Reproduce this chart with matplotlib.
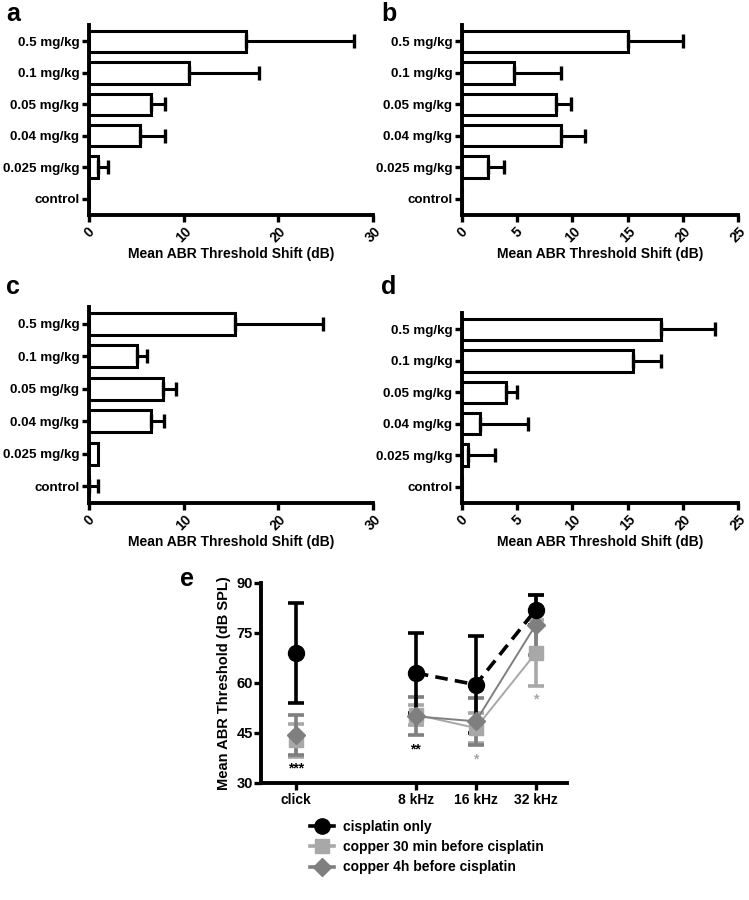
import matplotlib
matplotlib.use("Agg")
import matplotlib.pyplot as plt
from matplotlib.lines import Line2D
import numpy as np

plt.rcParams['font.family'] = ['Liberation Sans', 'DejaVu Sans']
plt.rcParams['font.weight'] = 'bold'

# ---- data: panels a-d (bottom-to-top order) ----
doses = ["control", "0.025 mg/kg", "0.04 mg/kg", "0.05 mg/kg", "0.1 mg/kg", "0.5 mg/kg"]

a_mean = [0, 1.0, 5.4, 6.6, 10.6, 16.6]
a_err = [0, 1.0, 2.6, 1.4, 7.4, 11.4]

b_mean = [0, 2.4, 9.0, 8.5, 4.7, 15.0]
b_err = [0, 1.4, 2.1, 1.4, 4.3, 5.0]

c_mean = [0, 1.0, 6.5, 7.8, 5.1, 15.4]
c_err = [1.0, 0, 1.4, 1.4, 1.0, 9.3]

d_mean = [0, 0.5, 1.6, 4.0, 15.5, 18.0]
d_err = [0, 2.5, 4.4, 1.0, 2.5, 4.9]

a_ticks = [0, 10, 20, 30]
b_ticks = [0, 5, 10, 15, 20, 25]

# ---- data: panel e ----
e_labels = ["click", "8 kHz", "16 kHz", "32 kHz"]
e_pos = [1, 3, 4, 5]
cis_mean = [69, 63, 59.5, 82]
cis_err = [15, 12, 14.5, 4.5]
cu30_mean = [42.8, 50.5, 46.5, 69]
cu30_err = [5.0, 3.0, 4.5, 10.0]
cu4h_mean = [44.3, 50, 48.5, 77.5]
cu4h_err = [6.0, 5.7, 7.0, 9.0]
sig_text = ["***", "**", "*", "*"]
sig_y = [34.5, 40, 37, 55]
sig_color = ["black", "black", "#a8a8a8", "#a8a8a8"]
e_yticks = [30, 45, 60, 75, 90]

W, H = 749, 900
fig = plt.figure(figsize=(W / 100, H / 100), dpi=100)
FS = 10


def ax_px(x0, y0, x1, y1):
    return fig.add_axes([x0 / W, 1 - y1 / H, (x1 - x0) / W, (y1 - y0) / H])


def style(ax):
    for s in ['top', 'right']:
        ax.spines[s].set_visible(False)
    for s in ['left', 'bottom']:
        ax.spines[s].set_linewidth(2.8)
    ax.tick_params(width=2.4, length=5, labelsize=FS)


def bar_panel(ax, means, errs, ticks, xmax):
    y = np.arange(len(doses))
    ax.barh(y, means, height=0.68, color='white', edgecolor='black', linewidth=2.2, zorder=2)
    for yi, m, e in zip(y, means, errs):
        if e > 0:
            ax.errorbar([m], [yi], xerr=[[0], [e]], fmt='none', ecolor='black',
                        elinewidth=2.2, capsize=5, capthick=2.4, zorder=3)
    ax.set_yticks(y)
    ax.set_yticklabels(doses, fontweight='bold')
    ax.set_ylim(-0.52, 5.52)
    ax.set_xlim(0, xmax)
    ax.set_xticks(ticks)
    ax.set_xticklabels([str(t) for t in ticks], rotation=45, fontweight='bold')
    ax.set_xlabel("Mean ABR Threshold Shift (dB)", fontweight='bold', fontsize=FS, labelpad=1)
    style(ax)
    ax.tick_params(axis='y', pad=2, labelsize=9.6)
    ax.tick_params(axis='x', pad=2)


axa = ax_px(89, 25, 373, 215)
bar_panel(axa, a_mean, a_err, a_ticks, 30)
axb = ax_px(462, 25, 738, 215)
bar_panel(axb, b_mean, b_err, b_ticks, 25)
axc = ax_px(89, 307, 373, 503)
bar_panel(axc, c_mean, c_err, a_ticks, 30)
axd = ax_px(462, 313, 738, 503)
bar_panel(axd, d_mean, d_err, b_ticks, 25)

# panel e
axe = ax_px(261, 583, 567, 783)
c_cis, c_30, c_4h = 'black', '#a8a8a8', '#7f7f7f'
axe.errorbar(e_pos, cu30_mean, yerr=cu30_err, fmt='none', ecolor=c_30, elinewidth=2.6,
             capsize=6, capthick=2.6, zorder=2)
axe.errorbar(e_pos, cu4h_mean, yerr=cu4h_err, fmt='none', ecolor=c_4h, elinewidth=2.6,
             capsize=6, capthick=2.6, zorder=2)
axe.errorbar(e_pos, cis_mean, yerr=cis_err, fmt='none', ecolor=c_cis, elinewidth=2.6,
             capsize=6, capthick=2.6, zorder=3)
axe.plot(e_pos[1:], cu30_mean[1:], '-', color=c_30, lw=1.4, zorder=2)
axe.plot(e_pos[1:], cu4h_mean[1:], '-', color=c_4h, lw=1.4, zorder=2)
axe.plot(e_pos[1:], cis_mean[1:], '--', color=c_cis, lw=2.6, dashes=(3.5, 2), zorder=3)
axe.plot(e_pos, cu30_mean, 's', color=c_30, ms=10, zorder=4)
axe.plot(e_pos, cu4h_mean, 'D', color=c_4h, ms=9, zorder=4)
axe.plot(e_pos, cis_mean, 'o', color=c_cis, ms=11.5, zorder=5)
for xp, t, yv, col in zip(e_pos, sig_text, sig_y, sig_color):
    axe.text(xp, yv, t, ha='center', va='center', fontsize=10, color=col, fontweight='bold')
axe.set_xlim(0.42, 5.52)
axe.set_ylim(30, 90)
axe.set_yticks(e_yticks)
axe.set_yticklabels([str(t) for t in e_yticks], fontweight='bold')
axe.set_xticks(e_pos)
axe.set_xticklabels(e_labels, fontweight='bold')
axe.set_ylabel("Mean ABR Threshold (dB SPL)", fontweight='bold', fontsize=FS + 0.5, labelpad=4)
style(axe)
axe.tick_params(axis='y', pad=1, labelsize=FS + 0.5)
axe.tick_params(axis='x', pad=2)

handles = [
    Line2D([], [], color=c_cis, marker='o', ms=11, lw=2.6),
    Line2D([], [], color=c_30, marker='s', ms=10, lw=2.6),
    Line2D([], [], color=c_4h, marker='D', ms=9, lw=2.6),
]
labels = ["cisplatin only", "copper 30 min before cisplatin", "copper 4h before cisplatin"]
fig.legend(handles, labels, loc='upper left', bbox_to_anchor=(310 / W, 1 - 820 / H),
           frameon=False, prop={'weight': 'bold', 'size': 10}, handlelength=1.7,
           labelspacing=0.45, handletextpad=0.7, borderaxespad=0, borderpad=0)

# panel letters
for (x, y, t) in [(6, 2, 'a'), (381, 2, 'b'), (6, 275, 'c'), (381, 275, 'd'), (180, 567, 'e')]:
    fig.text(x / W, 1 - y / H, t, fontsize=18, fontweight='bold', va='top', ha='left')

fig.savefig("out.png", dpi=100)
